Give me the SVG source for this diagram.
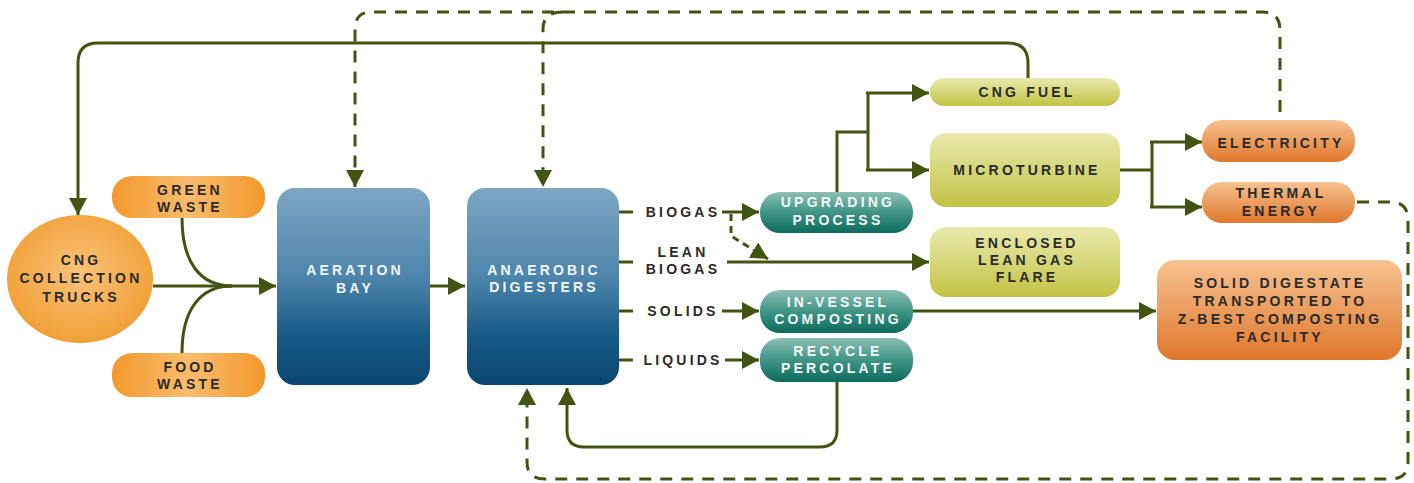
<svg xmlns="http://www.w3.org/2000/svg" width="1414" height="483" viewBox="0 0 1414 483">
<defs>
<linearGradient id="gOr" x1="0" y1="0" x2="1" y2="0">
<stop offset="0" stop-color="#F2982B"/><stop offset="0.5" stop-color="#FABC6E"/><stop offset="1" stop-color="#F2982B"/>
</linearGradient>
<radialGradient id="gCirc" cx="0.5" cy="0.45" r="0.6">
<stop offset="0" stop-color="#FAC27A"/><stop offset="1" stop-color="#F09C30"/>
</radialGradient>
<linearGradient id="gBlue" x1="0" y1="0" x2="0" y2="1">
<stop offset="0" stop-color="#7EA6C4"/><stop offset="0.45" stop-color="#4D85AC"/><stop offset="0.75" stop-color="#175B86"/><stop offset="1" stop-color="#0A466F"/>
</linearGradient>
<linearGradient id="gTeal" x1="0" y1="0" x2="0" y2="1">
<stop offset="0" stop-color="#8DBFB4"/><stop offset="0.5" stop-color="#3F9585"/><stop offset="1" stop-color="#0C6A5A"/>
</linearGradient>
<linearGradient id="gYel" x1="0" y1="0" x2="0" y2="1">
<stop offset="0" stop-color="#E9EAAE"/><stop offset="1" stop-color="#C3C245"/>
</linearGradient>
<linearGradient id="gRed" x1="0" y1="0" x2="0" y2="1">
<stop offset="0" stop-color="#F7C291"/><stop offset="1" stop-color="#DF772B"/>
</linearGradient>
<marker id="ah" markerUnits="userSpaceOnUse" markerWidth="18" markerHeight="18" refX="17" refY="9" orient="auto">
<path d="M0,0 L17,9 L0,18 z" fill="#435312"/>
</marker>
</defs>
<style>
.c{fill:none;stroke:#435312;stroke-width:3}
.d{fill:none;stroke:#435312;stroke-width:3;stroke-dasharray:12 9}
.t{font-family:"Liberation Sans",Arial,sans-serif;font-weight:bold;font-size:14px;letter-spacing:3.2px;fill:#2A2A2A;text-anchor:middle}
.w{fill:#F2F6FA}
</style>
<rect width="1414" height="483" fill="#FFFFFF"/>

<g id="connectors">
<path class="c" d="M1028,78 L1028,63 Q1028,43 1008,43 L98,43 Q78,43 78,63 L78,215" marker-end="url(#ah)"/>
<path class="d" d="M1280,112 L1280,30 Q1280,12 1262,12 L372,12 Q355,12 355,29 L355,187" marker-end="url(#ah)"/>
<path class="d" d="M563,12 Q543,12 543,29 L543,187" marker-end="url(#ah)"/>
<path class="d" d="M1357,202 L1390,202 Q1408,202 1408,220 L1408,462 Q1408,479 1390,479 L545,479 Q527,479 527,462 L527,388" marker-end="url(#ah)"/>
<path class="c" d="M837,382 L837,430 Q837,447 820,447 L584,447 Q567,447 567,430 L567,388" marker-end="url(#ah)"/>
<path class="c" d="M153,286 L276,286" marker-end="url(#ah)"/>
<path class="c" d="M182,218 C182,262 200,286 232,286"/>
<path class="c" d="M182,353 C182,310 200,286 232,286"/>
<path class="c" d="M430,286 L465,286" marker-end="url(#ah)"/>
<path class="c" d="M619,212 L633,212 M619,262 L633,262 M619,311 L633,311 M619,360 L633,360"/>
<path class="c" d="M722,212 L759,212" marker-end="url(#ah)"/>
<path class="c" d="M727,262 L929,262" marker-end="url(#ah)"/>
<path class="d" style="stroke-dasharray:7 5" d="M731,214 L731,236 L768,259" marker-end="url(#ah)"/>
<path class="c" d="M722,311 L759,311" marker-end="url(#ah)"/>
<path class="c" d="M725,360 L759,360" marker-end="url(#ah)"/>
<path class="c" d="M837,192 L837,132 L868,132 M868,93 L868,170"/>
<path class="c" d="M866,93 L929,93" marker-end="url(#ah)"/>
<path class="c" d="M866,170 L929,170" marker-end="url(#ah)"/>
<path class="c" d="M1120,170 L1152,170 M1152,142 L1152,207"/>
<path class="c" d="M1150,142 L1202,142" marker-end="url(#ah)"/>
<path class="c" d="M1150,207 L1202,207" marker-end="url(#ah)"/>
<path class="c" d="M913,311 L1156,311" marker-end="url(#ah)"/>
</g>

<g id="n-trucks">
<ellipse cx="80" cy="279" rx="73" ry="64" fill="url(#gCirc)"/>
<text class="t" x="81" y="265">CNG</text>
<text class="t" x="81" y="283">COLLECTION</text>
<text class="t" x="81" y="302">TRUCKS</text>
</g>
<g id="n-green">
<rect x="112" y="176" width="153" height="42" rx="20" fill="url(#gOr)"/>
<text class="t" x="190" y="195">GREEN</text>
<text class="t" x="190" y="212">WASTE</text>
</g>
<g id="n-food">
<rect x="112" y="353" width="153" height="44" rx="20" fill="url(#gOr)"/>
<text class="t" x="190" y="372">FOOD</text>
<text class="t" x="190" y="389">WASTE</text>
</g>
<g id="n-aeration">
<rect x="277" y="188" width="153" height="197" rx="18" fill="url(#gBlue)"/>
<text class="t w" x="355" y="275">AERATION</text>
<text class="t w" x="355" y="293">BAY</text>
</g>
<g id="n-anaerobic">
<rect x="467" y="188" width="152" height="197" rx="18" fill="url(#gBlue)"/>
<text class="t w" x="544" y="275">ANAEROBIC</text>
<text class="t w" x="544" y="292">DIGESTERS</text>
</g>
<g id="labels">
<text class="t" x="683" y="217">BIOGAS</text>
<text class="t" x="683" y="257">LEAN</text>
<text class="t" x="683" y="274">BIOGAS</text>
<text class="t" x="683" y="316">SOLIDS</text>
<text class="t" x="683" y="365">LIQUIDS</text>
</g>
<g id="n-upgrading">
<rect x="760" y="192" width="153" height="41" rx="20" fill="url(#gTeal)"/>
<text class="t w" x="838" y="207">UPGRADING</text>
<text class="t w" x="838" y="225">PROCESS</text>
</g>
<g id="n-invessel">
<rect x="760" y="290" width="153" height="43" rx="20" fill="url(#gTeal)"/>
<text class="t w" x="838" y="307">IN-VESSEL</text>
<text class="t w" x="838" y="324">COMPOSTING</text>
</g>
<g id="n-recycle">
<rect x="760" y="338" width="153" height="44" rx="20" fill="url(#gTeal)"/>
<text class="t w" x="838" y="356">RECYCLE</text>
<text class="t w" x="838" y="373">PERCOLATE</text>
</g>
<g id="n-cngfuel">
<rect x="930" y="78" width="190" height="28" rx="14" fill="url(#gYel)"/>
<text class="t" x="1027" y="97">CNG FUEL</text>
</g>
<g id="n-microturbine">
<rect x="930" y="133" width="190" height="74" rx="16" fill="url(#gYel)"/>
<text class="t" x="1027" y="175">MICROTURBINE</text>
</g>
<g id="n-flare">
<rect x="930" y="227" width="190" height="70" rx="16" fill="url(#gYel)"/>
<text class="t" x="1027" y="248">ENCLOSED</text>
<text class="t" x="1027" y="265">LEAN GAS</text>
<text class="t" x="1027" y="282">FLARE</text>
</g>
<g id="n-electricity">
<rect x="1202" y="120" width="153" height="42" rx="20" fill="url(#gRed)"/>
<text class="t" x="1281" y="148">ELECTRICITY</text>
</g>
<g id="n-thermal">
<rect x="1202" y="182" width="153" height="41" rx="20" fill="url(#gRed)"/>
<text class="t" x="1281" y="198">THERMAL</text>
<text class="t" x="1281" y="216">ENERGY</text>
</g>
<g id="n-digestate">
<rect x="1157" y="260" width="245" height="100" rx="18" fill="url(#gRed)"/>
<text class="t" x="1280" y="288">SOLID DIGESTATE</text>
<text class="t" x="1280" y="306">TRANSPORTED TO</text>
<text class="t" x="1280" y="324">Z-BEST COMPOSTING</text>
<text class="t" x="1280" y="342">FACILITY</text>
</g>
</svg>
